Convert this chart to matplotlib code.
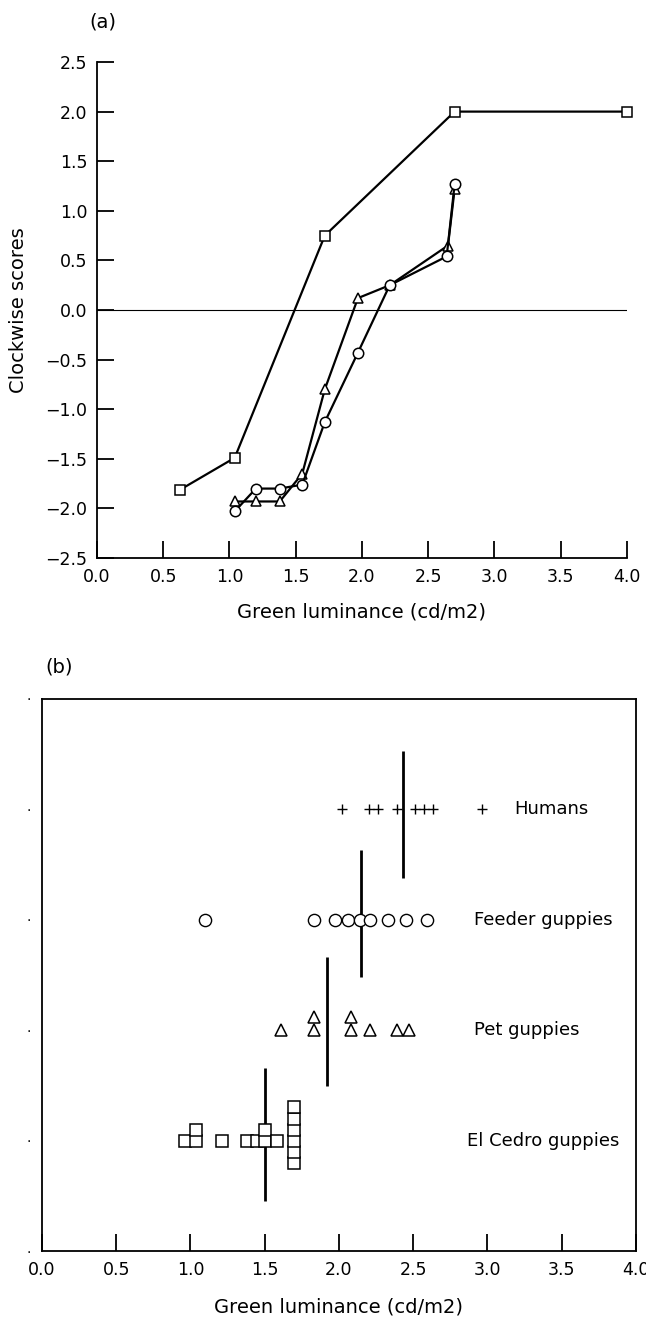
import numpy as np
import matplotlib.pyplot as plt

plt.rcParams['font.family'] = ['DejaVu Sans']

# ---------------------------------------------------------------------------
# (a) clockwise scores vs green luminance
# ---------------------------------------------------------------------------
lum_sq = [0.63, 1.04, 1.72, 2.70, 4.00]
score_sq = [-1.81, -1.49, 0.75, 2.00, 2.00]

lum_tri = [1.04, 1.20, 1.38, 1.55, 1.72, 1.97, 2.21, 2.65, 2.70]
score_tri = [-1.93, -1.93, -1.93, -1.65, -0.80, 0.12, 0.25, 0.65, 1.22]

lum_circ = [1.04, 1.20, 1.38, 1.55, 1.72, 1.97, 2.21, 2.64, 2.70]
score_circ = [-2.03, -1.80, -1.80, -1.76, -1.13, -0.43, 0.25, 0.54, 1.27]

# ---------------------------------------------------------------------------
# (b) individual thresholds per group
# ---------------------------------------------------------------------------
groups = ["Humans", "Feeder guppies", "Pet guppies", "El Cedro guppies"]
group_rows = [4, 3, 2, 1]
thr_humans = [2.02, 2.20, 2.26, 2.39, 2.51, 2.57, 2.63, 2.96]
thr_feeder = [1.10, 1.83, 1.97, 2.06, 2.14, 2.21, 2.33, 2.45, 2.59]
thr_pet = [1.61, 1.83, 1.83, 2.08, 2.08, 2.21, 2.39, 2.47]
thr_cedro = [0.96, 1.04, 1.04, 1.21, 1.38, 1.45, 1.50, 1.50, 1.58,
             1.70, 1.70, 1.70, 1.70, 1.70, 1.70]
group_means = [2.43, 2.15, 1.92, 1.50]
mean_lo = [3.38, 2.48, 1.49, 0.45]
mean_hi = [4.53, 3.63, 2.66, 1.66]
label_x = [3.18, 2.91, 2.91, 2.86]
row_ticks = [0, 1, 2, 3, 4, 5]


def stack_levels(vals):
    """nivel de empilhamento para valores repetidos"""
    levels = []
    for i, v in enumerate(vals):
        n_same = vals.count(v)
        k = vals[:i].count(v)
        levels.append(k - (n_same - 1) // 2 if n_same > 2 else k)
    return levels


def fmt_minus(v, pos=None):
    return f"{v:.1f}".replace('-', '\u2212')


fig = plt.figure(figsize=(6.46, 13.22), dpi=100)

# ------------------------------- panel (a) --------------------------------
ax = fig.add_axes([0.150, 0.5779, 0.8204, 0.3752])
ax.axhline(0, color='black', lw=0.8, zorder=1)
mk = dict(color='black', lw=1.6, markerfacecolor='white',
          markeredgecolor='black', markeredgewidth=1.1, clip_on=False, zorder=3)
ax.plot(lum_sq, score_sq, marker='s', markersize=7, **mk)
ax.plot(lum_tri, score_tri, marker='^', markersize=7.5, **mk)
ax.plot(lum_circ, score_circ, marker='o', markersize=7.5, **mk)

ax.set_xlim(0, 4)
ax.set_ylim(-2.5, 2.5)
ax.set_xticks(np.arange(0, 4.01, 0.5))
ax.set_yticks(np.arange(-2.5, 2.51, 0.5))
ax.xaxis.set_major_formatter(plt.FuncFormatter(fmt_minus))
ax.yaxis.set_major_formatter(plt.FuncFormatter(fmt_minus))
ax.tick_params(direction='in', length=12, width=1.3, labelsize=12.5, pad=7)
for s in ['top', 'right']:
    ax.spines[s].set_visible(False)
for s in ['left', 'bottom']:
    ax.spines[s].set_linewidth(1.3)
ax.set_xlabel("Green luminance (cd/m2)", fontsize=14)
ax.xaxis.set_label_coords(0.5, -0.09)
ax.set_ylabel("Clockwise scores", fontsize=14)
ax.yaxis.set_label_coords(-0.13, 0.5)
fig.text(103 / 646, 1 - 22 / 1322, "(a)", fontsize=14, ha='center', va='center')

# ------------------------------- panel (b) --------------------------------
bx = fig.add_axes([0.065, 0.0537, 0.9195, 0.4176])
series = [
    (thr_humans, '+', 7, 0.0, 1.0),
    (thr_feeder, 'o', 8.8, 0.0, 1.0),
    (thr_pet, '^', 9, 0.12, 1.1),
    (thr_cedro, 's', 8.5, 0.10, 1.1),
]
for (vals, marker, ms, step, mew), row in zip(series, group_rows):
    lv = stack_levels(vals)
    ys = [row + step * l for l in lv]
    bx.plot(vals, ys, linestyle='none', marker=marker, markersize=ms,
            markerfacecolor='white', markeredgecolor='black',
            markeredgewidth=mew, zorder=3)

bx.vlines(group_means, mean_lo, mean_hi, color='black', lw=2.0, zorder=2)

for name, row, lx in zip(groups, group_rows, label_x):
    bx.text(lx, row, name, fontsize=13, ha='left', va='center')

bx.set_xlim(0, 4)
bx.set_ylim(0, 5)
bx.set_xticks(np.arange(0, 4.01, 0.5))
bx.xaxis.set_major_formatter(plt.FuncFormatter(fmt_minus))
bx.set_yticks(row_ticks)
bx.set_yticklabels(['\u00b7'] * len(row_ticks), fontsize=10)
bx.tick_params(axis='x', direction='in', length=12, width=1.3,
               labelsize=12.5, pad=7)
bx.tick_params(axis='y', length=0, pad=8)
for s in bx.spines.values():
    s.set_linewidth(1.3)
bx.set_xlabel("Green luminance (cd/m2)", fontsize=14)
bx.xaxis.set_label_coords(0.5, -0.085)
fig.text(59 / 646, 1 - 667 / 1322, "(b)", fontsize=14, ha='center', va='center')

fig.savefig("out.png", dpi=100)
